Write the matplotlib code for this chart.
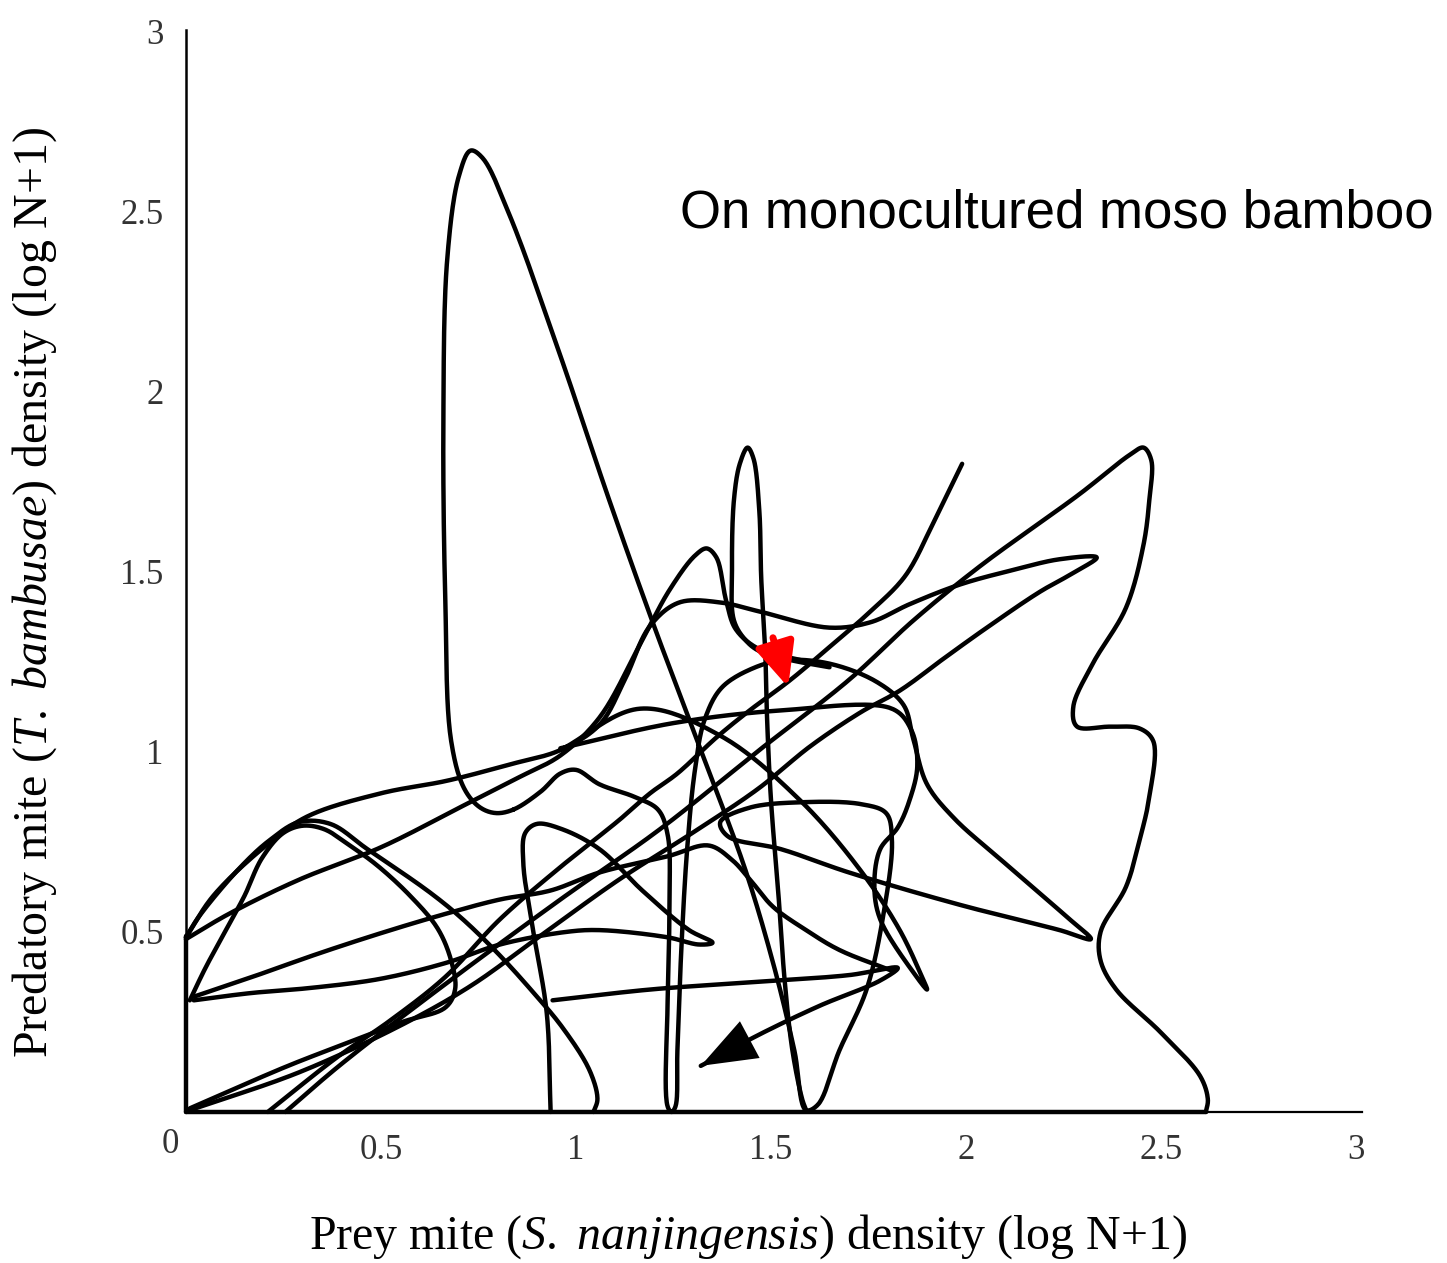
import numpy as np
import matplotlib.pyplot as plt
from matplotlib.patches import FancyArrowPatch

plt.rcParams["mathtext.fontset"] = "custom"
plt.rcParams["mathtext.rm"] = "Liberation Serif"
plt.rcParams["mathtext.it"] = "Liberation Serif:italic"

# Prey (x) vs predator (y) densities, log(N+1), traced along the phase path
tall_loop = [
    (0.84, 0.84), (0.91, 0.89), (0.96, 0.94), (1.00, 0.95), (1.06, 0.91), (1.15, 0.875),
    (1.21, 0.84), (1.235, 0.77), (1.24, 0.59), (1.235, 0.31), (1.235, 0.015), (1.245, 0.0),
    (1.255, 0.015), (1.26, 0.17), (1.27, 0.45), (1.285, 0.73), (1.305, 0.95), (1.33, 1.09),
    (1.375, 1.18), (1.46, 1.235), (1.535, 1.255), (1.65, 1.245), (1.77, 1.195), (1.84, 1.13),
    (1.865, 1.035), (1.90, 0.91), (1.97, 0.815), (2.09, 0.70), (2.255, 0.545), (2.32, 0.48),
    (2.24, 0.505), (1.985, 0.575), (1.70, 0.665), (1.525, 0.73), (1.39, 0.765), (1.37, 0.805),
    (1.445, 0.845), (1.575, 0.86), (1.73, 0.855), (1.795, 0.83), (1.81, 0.755), (1.79, 0.56),
    (1.745, 0.34), (1.675, 0.17), (1.62, 0.02), (1.59, 0.005), (1.56, 0.17), (1.51, 0.395),
    (1.435, 0.67), (1.32, 1.005), (1.20, 1.35), (1.085, 1.70), (0.96, 2.10), (0.83, 2.49),
    (0.76, 2.65), (0.73, 2.67), (0.70, 2.60), (0.67, 2.37), (0.66, 1.92), (0.665, 1.42),
    (0.68, 1.03), (0.715, 0.895), (0.755, 0.845), (0.795, 0.83), (0.84, 0.84),
]
spike = [
    (1.65, 1.235), (1.55, 1.255), (1.47, 1.28), (1.435, 1.31), (1.405, 1.365), (1.40, 1.505),
    (1.405, 1.70), (1.42, 1.80), (1.44, 1.845), (1.455, 1.815), (1.47, 1.67), (1.475, 1.48),
    (1.485, 1.285), (1.49, 1.09), (1.50, 0.865), (1.52, 0.59), (1.535, 0.365), (1.555, 0.17),
    (1.58, 0.035), (1.59, 0.005),
]
upper_band = [
    (0.0, 0.485), (0.07, 0.60), (0.20, 0.735), (0.31, 0.82), (0.50, 0.885), (0.67, 0.92),
    (0.83, 0.965), (0.96, 1.005), (1.06, 1.075), (1.125, 1.20), (1.19, 1.35), (1.265, 1.415),
    (1.37, 1.415), (1.47, 1.39), (1.65, 1.345), (1.755, 1.36), (1.855, 1.41), (1.985, 1.465),
    (2.12, 1.505), (2.24, 1.535), (2.335, 1.54), (2.28, 1.50), (2.19, 1.445), (2.06, 1.35),
    (1.95, 1.265), (1.83, 1.17), (1.73, 1.11), (1.60, 1.015), (1.47, 0.90), (1.32, 0.79),
    (1.11, 0.645), (0.91, 0.49), (0.73, 0.35), (0.55, 0.24), (0.29, 0.11), (0.01, 0.005),
]
hump_1p5 = [
    (0.0, 0.48), (0.11, 0.55), (0.29, 0.645), (0.50, 0.735), (0.71, 0.85), (0.855, 0.93),
    (0.96, 0.99), (1.06, 1.095), (1.165, 1.30), (1.24, 1.45), (1.305, 1.545), (1.335, 1.565),
    (1.36, 1.54), (1.385, 1.42), (1.41, 1.34), (1.47, 1.285), (1.575, 1.255),
]
tail_from_2 = [
    (1.99, 1.80), (1.92, 1.645), (1.845, 1.49), (1.755, 1.39), (1.67, 1.31), (1.55, 1.20),
    (1.445, 1.115), (1.36, 1.04), (1.26, 0.94), (1.19, 0.885), (1.11, 0.81), (0.96, 0.68),
    (0.805, 0.535), (0.665, 0.375), (0.525, 0.255), (0.385, 0.15), (0.21, 0.0),
]
right_lobe = [
    (0.255, 0.0), (0.395, 0.13), (0.665, 0.355), (0.96, 0.59), (1.215, 0.785), (1.47, 1.005),
    (1.70, 1.20), (1.865, 1.365), (2.035, 1.515), (2.29, 1.715), (2.42, 1.825), (2.455, 1.845),
    (2.475, 1.81), (2.47, 1.70), (2.455, 1.575), (2.41, 1.40), (2.325, 1.245), (2.275, 1.125),
    (2.285, 1.07), (2.37, 1.07), (2.445, 1.065), (2.48, 1.03), (2.47, 0.875), (2.445, 0.755),
    (2.41, 0.625), (2.345, 0.50), (2.345, 0.42), (2.385, 0.34), (2.50, 0.22), (2.60, 0.10),
    (2.62, 0.035), (2.615, 0.0),
]
notch_loop = [
    (0.935, 0.0), (0.925, 0.275), (0.89, 0.505), (0.865, 0.69), (0.87, 0.775), (0.90, 0.80),
    (0.965, 0.785), (1.06, 0.73), (1.17, 0.615), (1.29, 0.505), (1.35, 0.47), (1.315, 0.465),
    (1.235, 0.485), (1.06, 0.505), (0.975, 0.50), (0.805, 0.465), (0.67, 0.415), (0.50, 0.37),
    (0.325, 0.345), (0.165, 0.33), (0.02, 0.31),
]
hump_left = [
    (0.01, 0.01), (0.255, 0.125), (0.385, 0.18), (0.555, 0.25), (0.665, 0.29), (0.69, 0.34),
    (0.68, 0.42), (0.645, 0.51), (0.575, 0.60), (0.49, 0.685), (0.42, 0.74), (0.355, 0.785),
    (0.30, 0.795), (0.25, 0.775), (0.195, 0.705), (0.15, 0.60), (0.11, 0.52), (0.05, 0.40),
    (0.01, 0.31),
]
arc_left = [
    (0.0, 0.485), (0.035, 0.545), (0.14, 0.68), (0.215, 0.755), (0.29, 0.805), (0.37, 0.80),
    (0.465, 0.73), (0.625, 0.61), (0.71, 0.535), (0.80, 0.44), (0.88, 0.345), (0.965, 0.235),
    (1.035, 0.115), (1.055, 0.035), (1.045, 0.0),
]
low_sweep = [
    (0.02, 0.32), (0.17, 0.375), (0.34, 0.44), (0.51, 0.50), (0.665, 0.55), (0.805, 0.59),
    (0.935, 0.615), (1.06, 0.665), (1.235, 0.71), (1.34, 0.74), (1.40, 0.70), (1.45, 0.64),
    (1.505, 0.57), (1.59, 0.505), (1.675, 0.45), (1.815, 0.39),
]
bulge_right = [
    (0.96, 1.01), (1.25, 1.08), (1.525, 1.115), (1.81, 1.12), (1.86, 1.06), (1.875, 0.96),
    (1.855, 0.865), (1.825, 0.79), (1.78, 0.73), (1.765, 0.63), (1.78, 0.535), (1.87, 0.38),
    (1.90, 0.34), (1.885, 0.38), (1.83, 0.505), (1.73, 0.67), (1.575, 0.865), (1.37, 1.045),
    (1.165, 1.12), (0.96, 1.005),
]
final_leg = [
    (0.94, 0.31), (1.19, 0.34), (1.445, 0.36), (1.70, 0.38), (1.825, 0.40), (1.78, 0.365),
    (1.625, 0.295), (1.47, 0.215), (1.35, 0.145), (1.32, 0.128),
]
floor_run = [(2.615, 0.0), (0.0, 0.0)]
wall_run = [(0.0, 0.0), (0.0, 0.49)]

start_arrow = [(1.505, 1.317), (1.544, 1.18)]

x_ticks = [0.5, 1, 1.5, 2, 2.5, 3]
y_ticks = [0.5, 1, 1.5, 2, 2.5, 3]


def catmull_rom(pts, n=24, closed=False):
    p = np.asarray(pts, float)
    if len(p) < 3:
        return p
    if closed:
        p = np.vstack([p[-2], p, p[1]])
    else:
        p = np.vstack([2 * p[0] - p[1], p, 2 * p[-1] - p[-2]])
    out = []
    for i in range(1, len(p) - 2):
        p0, p1, p2, p3 = p[i - 1], p[i], p[i + 1], p[i + 2]
        t0 = 0.0
        t1 = t0 + np.linalg.norm(p1 - p0) ** 0.5 + 1e-6
        t2 = t1 + np.linalg.norm(p2 - p1) ** 0.5 + 1e-6
        t3 = t2 + np.linalg.norm(p3 - p2) ** 0.5 + 1e-6
        t = np.linspace(t1, t2, n)[:, None]
        a1 = (t1 - t) / (t1 - t0) * p0 + (t - t0) / (t1 - t0) * p1
        a2 = (t2 - t) / (t2 - t1) * p1 + (t - t1) / (t2 - t1) * p2
        a3 = (t3 - t) / (t3 - t2) * p2 + (t - t2) / (t3 - t2) * p3
        b1 = (t2 - t) / (t2 - t0) * a1 + (t - t0) / (t2 - t0) * a2
        b2 = (t3 - t) / (t3 - t1) * a2 + (t - t1) / (t3 - t1) * a3
        c = (t2 - t) / (t2 - t1) * b1 + (t - t1) / (t2 - t1) * b2
        out.append(c if i == 1 else c[1:])
    return np.vstack(out)


fig = plt.figure(figsize=(14.47, 12.63), dpi=100)
ax = fig.add_axes([0.1285, 0.1196, 0.8127, 0.8567])

paths = [tall_loop, spike, upper_band, hump_1p5, tail_from_2, right_lobe, notch_loop,
         hump_left, arc_left, low_sweep, bulge_right, final_leg, floor_run, wall_run]
for pts in paths:
    xy = catmull_rom(pts, closed=(pts is tall_loop))
    ax.plot(xy[:, 0], xy[:, 1], color="black", lw=3.2, solid_capstyle="round",
            solid_joinstyle="round", clip_on=False)

# end-of-run arrowhead on the last leg
ax.add_patch(FancyArrowPatch(final_leg[-3], final_leg[-1],
                             arrowstyle="-|>,head_length=1.6,head_width=0.6",
                             mutation_scale=25, color="black", lw=0,
                             shrinkA=0, shrinkB=0))

# starting point marker
ax.annotate("", xy=start_arrow[1], xytext=start_arrow[0],
            arrowprops=dict(arrowstyle="-|>,head_length=1.1,head_width=0.5",
                            mutation_scale=24, color="red", lw=5,
                            shrinkA=0, shrinkB=0), zorder=5)

ax.set_xlim(0, 3.015)
ax.set_ylim(0, 3.005)
ax.set_xticks(x_ticks)
ax.set_xticklabels(["0.5", "1", "1.5", "2", "2.5", "3"])
ax.set_yticks(y_ticks)
ax.set_yticklabels(["0.5", "1", "1.5", "2", "2.5", "3"])
ax.tick_params(length=0, pad=16, labelsize=25, labelcolor="#333333")
for lab in ax.get_xticklabels() + ax.get_yticklabels():
    lab.set_family("Liberation Serif")
ax.annotate("0", xy=(0, 0), xytext=(-16, -33), textcoords="offset pixels",
            ha="center", va="center", fontsize=25, color="#333333",
            family="Liberation Serif")

ax.spines["top"].set_visible(False)
ax.spines["right"].set_visible(False)
ax.spines["left"].set_linewidth(1.8)
ax.spines["bottom"].set_linewidth(1.6)

serif = "Liberation Serif"
fig.text(748 / 1447, 1 - 1237 / 1263,
         r"Prey mite ($\it{S.}$ $\it{nanjingensis}$) density (log N+1)",
         fontsize=34.5, family=serif, ha="center", va="center")
fig.text(35 / 1447, 1 - 592 / 1263,
         r"Predatory mite ($\it{T.}$ $\it{bambusae}$) density (log N+1)",
         fontsize=34.5, family=serif, ha="center", va="center", rotation=90)

fig.text(680 / 1447, 1 - 213 / 1263, "On monocultured moso bamboo",
         fontsize=38, family="Liberation Sans", ha="left", va="center")

fig.savefig("out.png", dpi=100)
